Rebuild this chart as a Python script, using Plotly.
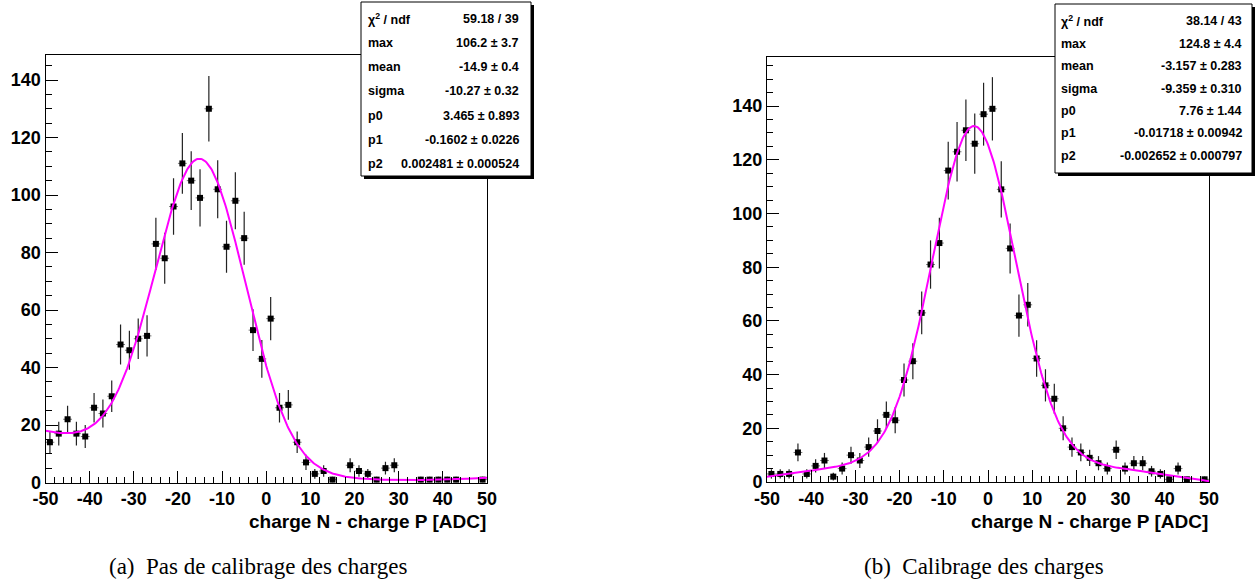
import numpy as np
import plotly.graph_objects as go

W, H = 1260, 582

# ---------------- data ----------------
bin_centers = list(range(-49, 50, 2))

counts_a = [14, 17, 22, 17, 16, 26, 24, 30, 48, 46,
            50, 51, 83, 78, 96, 111, 105, 99, 130, 102,
            82, 98, 85, 53, 43, 57, 26, 27, 14, 7,
            3, 4, 1, 0, 6, 4, 3, 1, 5, 6,
            0, 0, 1, 1, 1, 1, 1, 0, 0, 1]

counts_b = [3, 3, 3, 11, 3, 6, 8, 2, 5, 10,
            8, 13, 19, 25, 23, 38, 45, 63, 81, 89,
            116, 123, 131, 126, 137, 139, 109, 87, 62, 66,
            46, 36, 31, 20, 13, 11, 9, 7, 5, 12,
            5, 7, 7, 4, 3, 1, 5, 1, 0, 1]

# fit parameters: max, mean, sigma, p0, p1, p2
fit_a = [106.2, -14.9, -10.27, 3.465, -0.1602, 0.002481]
fit_b = [124.8, -3.157, -9.359, 7.76, -0.01718, -0.002652]

x_tickvals = [-50, -40, -30, -20, -10, 0, 10, 20, 30, 40, 50]
x_ticktext = ["-50", "-40", "-30", "-20", "-10", "0", "10", "20", "30", "40", "50"]
y_tickvals = [0, 20, 40, 60, 80, 100, 120, 140]
y_ticktext = ["0", "20", "40", "60", "80", "100", "120", "140"]

stats_labels = ["χ<sup>2</sup> / ndf", "max", "mean", "sigma", "p0", "p1", "p2"]
stats_a = ["59.18 / 39", "106.2 ± 3.7", "-14.9 ± 0.4", "-10.27 ± 0.32",
           "3.465 ± 0.893", "-0.1602 ± 0.0226", "0.002481 ± 0.000524"]
stats_b = ["38.14 / 43", "124.8 ± 4.4", "-3.157 ± 0.283", "-9.359 ± 0.310",
           "7.76 ± 1.44", "-0.01718 ± 0.00942", "-0.002652 ± 0.000797"]

x_title = "charge N - charge P [ADC]"
caption_a = "(a)  Pas de calibrage des charges"
caption_b = "(b)  Calibrage des charges"


def fit_func(x, p):
    return p[0] * np.exp(-0.5 * ((x - p[1]) / p[2]) ** 2) + p[3] + p[4] * x + p[5] * x ** 2


def px(x):
    return x / W


def py(y):
    return 1 - y / H


fig = go.Figure()

panels = [
    dict(counts=counts_a, fit=fit_a, stats=stats_a, xa="x", ya="y",
         xdom=[45.5, 487], ydom=[482.5, 55.3], ymax=148.6,
         box=[361, 2, 531, 176], rows0=18.8, rowstep=24.2,
         labx=366, valx=521, caption=caption_a, capx=258),
    dict(counts=counts_b, fit=fit_b, stats=stats_b, xa="x2", ya="y2",
         xdom=[767, 1209], ydom=[482, 57], ymax=158.3,
         box=[1055, 4, 1252, 173], rows0=21.5, rowstep=22.4,
         labx=1059, valx=1244, caption=caption_b, capx=984),
]

shapes = []
annotations = []
for i, p in enumerate(panels):
    xs = [c for c, n in zip(bin_centers, p["counts"]) if n > 0]
    ys = [n for n in p["counts"] if n > 0]
    errs = [float(np.sqrt(n)) for n in ys]
    fig.add_trace(go.Scatter(
        x=xs, y=ys, mode="markers", xaxis=p["xa"], yaxis=p["ya"],
        marker=dict(symbol="square", size=6, color="black"),
        error_y=dict(type="data", array=errs, visible=True, color="#222222",
                     thickness=1.2, width=0),
        error_x=dict(type="constant", value=1, visible=True, color="#777777",
                     thickness=1, width=0),
        showlegend=False, cliponaxis=False,
    ))
    xf = np.linspace(-50, 50, 401)
    fig.add_trace(go.Scatter(
        x=xf, y=fit_func(xf, p["fit"]), mode="lines", xaxis=p["xa"], yaxis=p["ya"],
        line=dict(color="#ff00ff", width=2), showlegend=False,
    ))

    sfx = "" if i == 0 else "2"
    axis_common = dict(showline=True, linecolor="black", linewidth=1, mirror=True,
                       ticks="inside", ticklen=12, tickcolor="black", tickwidth=1,
                       showgrid=False, zeroline=False, automargin=False,
                       tickfont=dict(family="Liberation Sans", size=18, color="black",
                                     weight="bold"))
    fig.layout["xaxis" + sfx] = dict(
        axis_common, domain=[px(p["xdom"][0]), px(p["xdom"][1])], range=[-50, 50],
        tickmode="array", tickvals=x_tickvals, ticktext=x_ticktext,
        anchor="y" + sfx, ticklabelstandoff=0,
        minor=dict(ticks="inside", ticklen=6, dtick=2, tick0=0, tickcolor="black",
                   showgrid=False),
    )
    fig.layout["yaxis" + sfx] = dict(
        axis_common, domain=[py(p["ydom"][0]), py(p["ydom"][1])], range=[0, p["ymax"]],
        tickmode="array", tickvals=y_tickvals, ticktext=y_ticktext,
        anchor="x" + sfx, ticklabelstandoff=0,
        minor=dict(ticks="inside", ticklen=6, dtick=5, tick0=0, tickcolor="black",
                   showgrid=False),
    )

    # stats box with shadow
    x0, y0, x1, y1 = p["box"]
    shapes.append(dict(type="rect", xref="paper", yref="paper",
                       x0=px(x0 + 3), x1=px(x1 + 3), y0=py(y1 + 3), y1=py(y0 + 3),
                       fillcolor="black", line=dict(width=0), layer="above"))
    shapes.append(dict(type="rect", xref="paper", yref="paper",
                       x0=px(x0), x1=px(x1), y0=py(y1), y1=py(y0),
                       fillcolor="white", line=dict(color="black", width=1), layer="above"))
    for k, (lab, val) in enumerate(zip(stats_labels, p["stats"])):
        yy = p["rows0"] + k * p["rowstep"]
        annotations.append(dict(xref="paper", yref="paper", x=px(p["labx"]), y=py(yy),
                                text=lab, showarrow=False, xanchor="left", yanchor="middle",
                                font=dict(family="Liberation Sans", size=12.5, color="black",
                                          weight="bold")))
        annotations.append(dict(xref="paper", yref="paper", x=px(p["valx"]), y=py(yy),
                                text=val, showarrow=False, xanchor="right", yanchor="middle",
                                font=dict(family="Liberation Sans", size=12.5, color="black",
                                          weight="bold")))
    # axis title
    annotations.append(dict(xref="paper", yref="paper", x=px(p["xdom"][1] + 1), y=py(521),
                            text=x_title, showarrow=False, xanchor="right", yanchor="middle",
                            font=dict(family="Liberation Sans", size=19, color="black",
                                      weight="bold")))
    # caption
    annotations.append(dict(xref="paper", yref="paper", x=px(p["capx"]), y=py(566),
                            text=p["caption"], showarrow=False, xanchor="center",
                            yanchor="middle",
                            font=dict(family="Liberation Serif", size=23, color="black")))

fig.update_layout(
    width=W, height=H, margin=dict(l=0, r=0, t=0, b=0),
    paper_bgcolor="white", plot_bgcolor="white",
    shapes=shapes, annotations=annotations,
)

fig.write_html("out.html", config={"displayModeBar": False},
               post_script="document.body.style.margin='0';document.body.style.overflow='hidden';")
